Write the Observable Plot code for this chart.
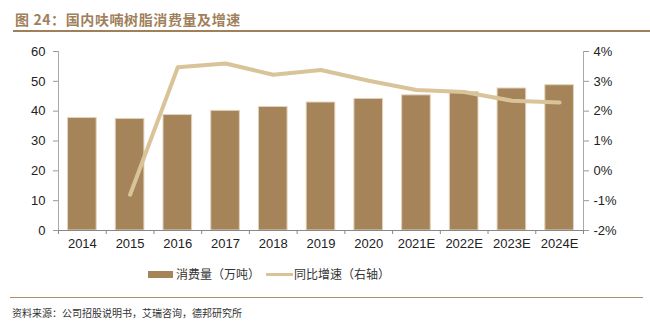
<!DOCTYPE html>
<html><head><meta charset="utf-8">
<script src="https://cdn.jsdelivr.net/npm/d3@7"></script>
<script src="https://cdn.jsdelivr.net/npm/@observablehq/plot@0.6"></script>
<style>
body{margin:0;background:#fff;width:650px;height:335px;position:relative;overflow:hidden;font-family:"Liberation Sans",Arial,sans-serif}
#title{position:absolute;left:15px;top:9px;font-family:"Noto Sans CJK SC";font-weight:bold;font-size:14px;color:#a0805a;letter-spacing:0.6px}
#tline{position:absolute;left:13px;right:0;top:30px;border-top:2px solid #a0805a}
#chart{position:absolute;left:0;top:40px}
#legend{position:absolute;top:265px;left:0;width:650px;font-family:"Noto Sans CJK SC";font-size:12px;color:#333}
.sw{position:absolute;top:6px}
#fline{position:absolute;left:10px;right:7px;top:297px;border-top:1.5px solid #b08c68}
#src{position:absolute;left:12px;top:305px;font-family:"Noto Sans CJK SC";font-size:10px;color:#333}
</style></head>
<body>
<div id="title">图 24：国内呋喃树脂消费量及增速</div>
<div id="tline"></div>
<div id="chart"></div>
<div id="legend">
  <div class="sw" style="left:148px;top:6px;width:25px;height:7px;background:#a6845a"></div>
  <div style="position:absolute;left:176px;top:0">消费量（万吨）</div>
  <div class="sw" style="left:266px;top:8px;width:27px;height:3px;background:#d9c49a"></div>
  <div style="position:absolute;left:294px;top:0">同比增速（右轴）</div>
</div>
<div id="fline"></div>
<div id="src">资料来源：公司招股说明书，艾瑞咨询，德邦研究所</div>
<script>
const categories = ["2014","2015","2016","2017","2018","2019","2020","2021E","2022E","2023E","2024E"];
const consumption = [37.7, 37.4, 38.7, 40.1, 41.4, 42.9, 44.1, 45.3, 46.4, 47.6, 48.7];
const growth = [null, -0.8, 3.47, 3.6, 3.22, 3.38, 3.02, 2.71, 2.64, 2.35, 2.29];
const leftTicks = [0,10,20,30,40,50,60];
const rightTicks = [-2,-1,0,1,2,3,4];

const toLeft = p => (p + 2) * 10;
const bars = categories.map((c,i)=>({i, c, v: consumption[i]}));
const line = categories.map((c,i)=>({i, c, g: growth[i]})).filter(d=>d.g!=null);
const bounds = d3.range(0, categories.length + 1).map(k => k - 0.5);

const plot = Plot.plot({
  width: 650, height: 215,
  marginTop: 11, marginBottom: 25, marginLeft: 58, marginRight: 67,
  style: {fontFamily: "Liberation Sans, Arial, sans-serif", fontSize: "13px", color: "#222", background: "transparent"},
  x: {type: "linear", domain: [-0.5, categories.length - 0.5]},
  y: {domain: [0, 60]},
  marks: [
    Plot.rectY(bars, {x1: d => d.i - 0.3, x2: d => d.i + 0.3, y: "v", fill: "#a6845a", stroke: "#e2d2bc", strokeWidth: 1}),
    Plot.line(line, {x: "i", y: d => toLeft(d.g), stroke: "#d9c49a", strokeWidth: 4, curve: "linear", strokeLinecap: "round", strokeLinejoin: "round"}),
    Plot.axisY({ticks: leftTicks, anchor: "left", tickSize: 5, tickPadding: 8, stroke: "#999", label: null, fontSize: 13}),
    Plot.ruleX([-0.5], {stroke: "#aaa"}),
    Plot.axisY({ticks: rightTicks.map(toLeft), anchor: "right", tickSize: 5, tickPadding: 5, stroke: "#999", label: null,
      tickFormat: d => (d/10 - 2) + "%", fontSize: 13}),
    Plot.ruleX([categories.length - 0.5], {stroke: "#aaa"}),
    Plot.ruleY([0], {stroke: "#888"}),
    Plot.axisX({ticks: bounds, tickSize: 4, tickFormat: () => "", stroke: "#888", label: null}),
    Plot.axisX({ticks: d3.range(categories.length), tickSize: 0, tickPadding: 8, tickFormat: i => categories[i], label: null, fontSize: 13})
  ]
});
document.getElementById("chart").appendChild(plot);
</script>
</body></html>
